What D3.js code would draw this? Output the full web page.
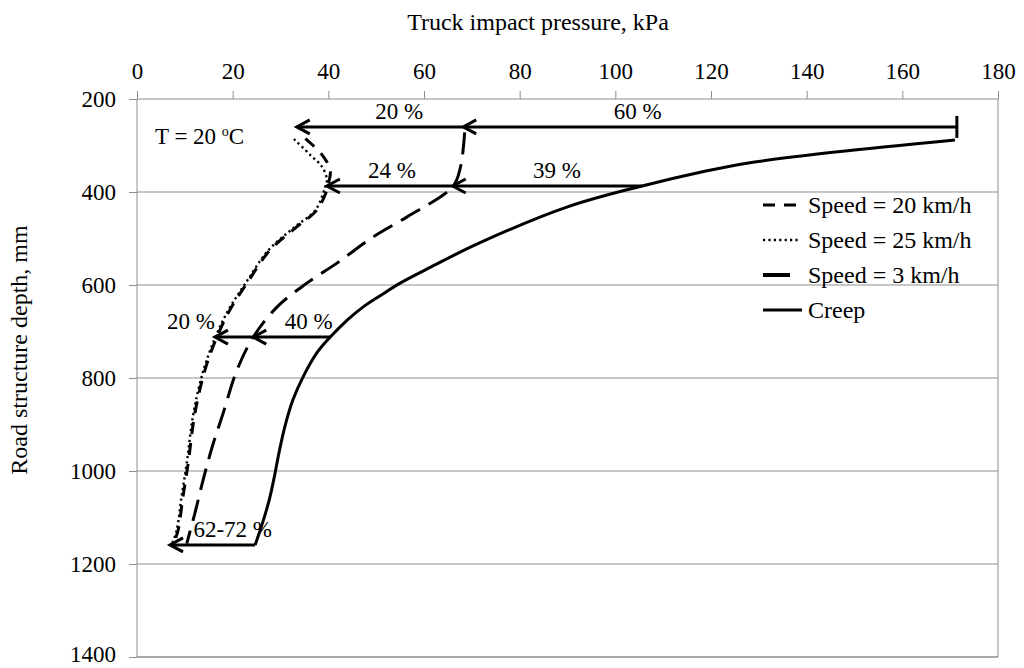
<!DOCTYPE html>
<html>
<head>
<meta charset="utf-8">
<script src="https://cdn.jsdelivr.net/npm/d3@7/dist/d3.min.js"></script>
<style>
  html, body { margin: 0; padding: 0; background: #fff; }
  svg text { font-family: "Times New Roman", "Liberation Serif", serif; fill: #000; }
</style>
</head>
<body>
<svg id="chart" width="1024" height="668"></svg>
<script>
// Pressure ticks (top axis) and depth ticks (left axis)
const pressureTicks = [0, 20, 40, 60, 80, 100, 120, 140, 160, 180];
const depthTicks = [200, 400, 600, 800, 1000, 1200, 1400];

// Series: [pressure kPa, depth mm]
const creep = [[171, 288], [146, 314], [127.5, 338], [118, 357], [105.6, 387], [90, 432],
  [71.5, 510], [61.5, 561], [55, 596], [51, 622], [47.3, 647], [44, 675], [40.4, 712],
  [37.6, 746], [34.7, 798], [32.6, 847], [30.9, 905], [29.7, 960], [28.8, 1008],
  [27.7, 1060], [26.3, 1110], [24.7, 1159]];
const speed3 = [[68.5, 272], [67.8, 338], [66.6, 379], [64.8, 400], [56.4, 454], [49.3, 497],
  [41.8, 553], [35.5, 596], [29.3, 647], [24.3, 712], [20.9, 783], [18, 876], [15.7, 949],
  [13.8, 1020], [12.1, 1091], [10.4, 1156]];
const speed20 = [[35.2, 285], [38.7, 320], [40.4, 353], [40.1, 379], [39.7, 396], [37.6, 439],
  [33.4, 475], [27.8, 525], [23, 596], [19.4, 654], [16.7, 712], [14.2, 783], [12.1, 876],
  [10.7, 983], [9.6, 1056], [8.6, 1127], [7.6, 1158]];
const speed25 = [[32.8, 286], [36.2, 320], [38.7, 346], [39.7, 374], [39.3, 391], [37.3, 439],
  [33, 475], [27.5, 525], [22.7, 596], [19.1, 654], [16.4, 712], [13.9, 783], [11.8, 876],
  [10.4, 983], [9.3, 1056], [8.3, 1127], [7.2, 1160]];

// Pressure-drop arrows: depth, start pressure, end pressure (arrowhead at end)
const arrowDepth = [260, 260, 387, 387, 712, 712, 1159];
const arrowFrom  = [171.4, 68.2, 105.6, 66, 40.4, 24.3, 24.7];
const arrowTo    = [68.2, 33.4, 66, 39.7, 24.3, 16.3, 6.9];

// Percentage labels: text, pressure at label centre, depth of the arrow it belongs to
const pctText     = ["60 %", "20 %", "39 %", "24 %", "40 %", "20 %", "62-72 %"];
const pctPressure = [104.7, 54.8, 87.8, 53.3, 35.9, 11.3, 20];
const pctDepth    = [260, 260, 387, 387, 712, 712, 1159];

const legendLabels = ["Speed = 20 km/h", "Speed = 25 km/h", "Speed = 3 km/h", "Creep"];

const svg = d3.select("#chart");
const plotL = 137, plotR = 998, plotT = 99, plotB = 657;

const x = d3.scaleLinear().domain([0, 180]).range([plotL, plotR]);
const y = d3.scaleLinear().domain([200, 1400]).range([plotT, plotB]);

const gridColor = "#8e8e8e";

// horizontal gridlines
svg.append("g").selectAll("line")
  .data(depthTicks.filter(d => d > 200 && d < 1400))
  .join("line")
  .attr("x1", plotL).attr("x2", plotR)
  .attr("y1", d => y(d)).attr("y2", d => y(d))
  .attr("stroke", gridColor).attr("stroke-width", 1);

// right and bottom frame
svg.append("line").attr("x1", plotR).attr("x2", plotR).attr("y1", plotT).attr("y2", plotB)
  .attr("stroke", gridColor).attr("stroke-width", 1);
svg.append("line").attr("x1", plotL).attr("x2", plotR).attr("y1", plotB).attr("y2", plotB)
  .attr("stroke", "#555").attr("stroke-width", 1.2);

// top axis
const xAxis = svg.append("g").attr("transform", `translate(0,${plotT})`)
  .call(d3.axisTop(x).tickValues(pressureTicks).tickSize(8).tickPadding(12).tickFormat(d3.format("d")));
xAxis.select(".domain").attr("stroke", gridColor).attr("d", `M${plotL},0H${plotR}`);
xAxis.selectAll(".tick line").attr("stroke", gridColor);
xAxis.selectAll(".tick text").attr("font-size", 23);

// left axis
const yAxis = svg.append("g").attr("transform", `translate(${plotL},0)`)
  .call(d3.axisLeft(y).tickValues(depthTicks).tickSize(8).tickPadding(13).tickFormat(d3.format("d")));
yAxis.select(".domain").attr("stroke", gridColor).attr("d", `M0,${plotT}V${plotB}`);
yAxis.selectAll(".tick line").attr("stroke", gridColor);
yAxis.selectAll(".tick text").attr("font-size", 23);
// keep the lowest label inside the page edge
yAxis.selectAll(".tick text").filter(d => d === 1400).attr("dy", "0.18em");

// axis titles
svg.append("text").attr("x", 538).attr("y", 30).attr("text-anchor", "middle")
  .attr("font-size", 24).text("Truck impact pressure, kPa");
svg.append("text").attr("transform", "translate(27,350) rotate(-90)").attr("text-anchor", "middle")
  .attr("font-size", 24).text("Road structure depth, mm");

// series
const line = d3.line().x(d => x(d[0])).y(d => y(d[1])).curve(d3.curveCatmullRom.alpha(0.5));
const series = [
  { data: creep, dash: null, w: 3 },
  { data: speed3, dash: "22,10", w: 3 },
  { data: speed20, dash: "12,9", w: 3 },
  { data: speed25, dash: "2.2,3.2", w: 2.4 }
];
svg.append("g").selectAll("path").data(series).join("path")
  .attr("d", s => line(s.data))
  .attr("fill", "none").attr("stroke", "#000")
  .attr("stroke-width", s => s.w)
  .attr("stroke-dasharray", s => s.dash);

// arrows
const ag = svg.append("g").attr("stroke", "#000").attr("fill", "none").attr("stroke-width", 3);
arrowDepth.forEach((d, i) => {
  const yy = y(d), x1 = x(arrowFrom[i]), x2 = x(arrowTo[i]);
  ag.append("line").attr("x1", x1).attr("x2", x2 + 1).attr("y1", yy).attr("y2", yy);
  ag.append("path").attr("d", `M${x2 + 13},${yy - 7}L${x2},${yy}L${x2 + 13},${yy + 7}`)
    .attr("stroke-linejoin", "miter");
});
// end bar at the start of the top arrow
ag.append("line").attr("x1", x(arrowFrom[0])).attr("x2", x(arrowFrom[0]))
  .attr("y1", y(arrowDepth[0]) - 11).attr("y2", y(arrowDepth[0]) + 11);

// percentage labels
svg.append("g").selectAll("text").data(pctText).join("text")
  .attr("x", (t, i) => x(pctPressure[i]))
  .attr("y", (t, i) => y(pctDepth[i]) - 8)
  .attr("text-anchor", "middle").attr("font-size", 23)
  .text(t => t);

// temperature note
const tNote = svg.append("text").attr("x", 155).attr("y", 144).attr("font-size", 23);
tNote.append("tspan").text("T = 20 ");
tNote.append("tspan").attr("font-size", 14).attr("dy", -8).text("o");
tNote.append("tspan").attr("dy", 8).text("C");

// legend
const legendDash = ["12,9", "2.2,3.2", null, null];
const legendW = [3, 2.4, 4, 3];
const legendX1 = [763, 763, 763, 763];
const legendX2 = [800, 800, 790, 802];
const lg = svg.append("g");
legendLabels.forEach((lab, i) => {
  const by = 213 + i * 35;
  lg.append("line").attr("x1", legendX1[i]).attr("x2", legendX2[i])
    .attr("y1", by - 8).attr("y2", by - 8)
    .attr("stroke", "#000").attr("stroke-width", legendW[i])
    .attr("stroke-dasharray", legendDash[i]);
  lg.append("text").attr("x", 808).attr("y", by).attr("font-size", 24).text(lab);
});
</script>
</body>
</html>
